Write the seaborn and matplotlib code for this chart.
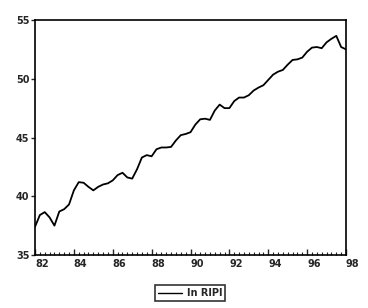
import numpy as np
import pandas as pd
import matplotlib
matplotlib.use("Agg")
import matplotlib.pyplot as plt
import seaborn as sns
from matplotlib.ticker import MultipleLocator

# quarterly observations 1982Q1 .. 1998Q1 (year as fraction, 2-digit)
years = [82 + 0.25 * i for i in range(65)]
ln_ripi = [
    37.4, 38.4, 38.65, 38.2, 37.5, 38.7, 38.9, 39.3,
    40.5, 41.2, 41.15, 40.8, 40.5, 40.8, 41.0, 41.1,
    41.35, 41.8, 42.0, 41.6, 41.5, 42.3, 43.3, 43.5,
    43.4, 44.0, 44.15, 44.15, 44.2, 44.75, 45.2, 45.3,
    45.45, 46.1, 46.55, 46.6, 46.5, 47.3, 47.8, 47.5,
    47.5, 48.1, 48.4, 48.4, 48.6, 49.0, 49.25, 49.45,
    49.9, 50.35, 50.6, 50.75, 51.2, 51.6, 51.65, 51.8,
    52.3, 52.65, 52.7, 52.6, 53.1, 53.4, 53.65, 52.7,
    52.5,
]
x_ticks = [82, 84, 86, 88, 90, 92, 94, 96, 98]
x_labels = ["82", "84", "86", "88", "90", "92", "94", "96", "98"]
y_ticks = [35, 40, 45, 50, 55]
y_labels = ["35", "40", "45", "50", "55"]
series_name = "ln RIPI"

df = pd.DataFrame({"year": years, "value": ln_ripi, "series": series_name})

sns.set_style("white")
plt.rcParams["font.family"] = ["DejaVu Sans"]

fig = plt.figure(figsize=(3.68, 3.08), dpi=100)
ax = fig.add_axes([35 / 368, 1 - 255 / 308, (346 - 35) / 368, (255 - 20) / 308])

sns.lineplot(data=df, x="year", y="value", ax=ax, color="black", linewidth=1.3,
             legend=False)

ax.set_xlim(82, 98)
ax.set_ylim(35, 55)
ax.set_xlabel("")
ax.set_ylabel("")

for s in ax.spines.values():
    s.set_visible(True)
    s.set_color("black")
    s.set_linewidth(1.2)

ax.set_xticks(x_ticks)
ax.set_xticklabels(x_labels, ha="left", fontsize=7, fontweight="bold")
ax.xaxis.set_minor_locator(MultipleLocator(0.25))
ax.tick_params(axis="x", which="major", direction="in", length=4, width=1.0,
               pad=3, bottom=True, top=False)
ax.tick_params(axis="x", which="minor", direction="in", length=2, width=0.8,
               bottom=True, top=False)
ax.set_yticks(y_ticks)
ax.set_yticklabels(y_labels, fontsize=7, fontweight="bold")
ax.tick_params(axis="y", which="major", direction="out", length=3, width=1.0,
               pad=1, left=True, right=False)

from matplotlib.lines import Line2D
handle = Line2D([0], [0], color="black", linewidth=1.0)
leg = fig.legend([handle], [series_name], loc="center",
                 bbox_to_anchor=(190 / 368, 1 - 293 / 308),
                 frameon=True, fancybox=False, fontsize=7,
                 handlelength=2.5, handletextpad=0.5, borderpad=0.3,
                 prop={"weight": "bold", "size": 7})
leg.get_frame().set_edgecolor("black")
leg.get_frame().set_linewidth(1.2)

fig.savefig("out.png", dpi=100)
